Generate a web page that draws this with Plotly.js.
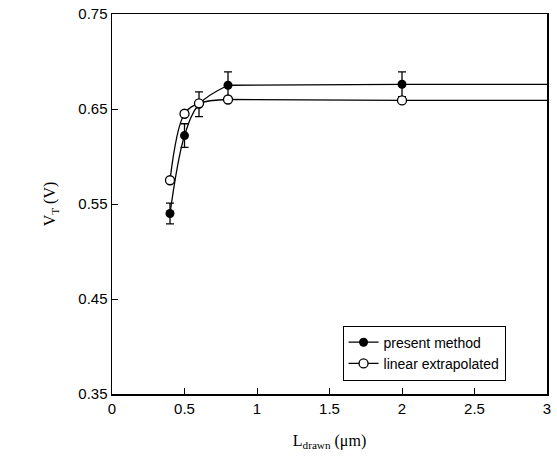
<!DOCTYPE html>
<html>
<head>
<meta charset="utf-8">
<script src="https://cdn.plot.ly/plotly-3.0.1.min.js"></script>
<style>body{margin:0;padding:0;background:#fff;} #chart{width:557px;height:473px;}</style>
</head>
<body>
<div id="chart"></div>
<script>
// Data
const lDrawn = [0.4, 0.5, 0.6, 0.8, 2.0];
const vtPresent = [0.540, 0.622, 0.655, 0.675, 0.676];
const vtPresentErr = [0.011, 0.0125, 0.013, 0.014, 0.013];
const vtLinear = [0.575, 0.645, 0.656, 0.660, 0.659];
const xAxisEnd = 3.0;
const xTicks = [0, 0.5, 1, 1.5, 2, 2.5, 3];
const yTicks = [0.35, 0.45, 0.55, 0.65, 0.75];
const seriesNames = ['present method', 'linear extrapolated'];

const nCurve = 4; // steep region drawn as a smooth curve, the plateau as straight segments
const lineStyle = {color: '#000', width: 1.3};

function curveTraces(ys) {
  const last = ys[ys.length - 1];
  return [
    {x: lDrawn.slice(0, nCurve), y: ys.slice(0, nCurve), type: 'scatter', mode: 'lines',
     line: Object.assign({shape: 'spline', smoothing: 1}, lineStyle), showlegend: false, hoverinfo: 'skip'},
    {x: lDrawn.slice(nCurve - 1).concat([xAxisEnd]), y: ys.slice(nCurve - 1).concat([last]),
     type: 'scatter', mode: 'lines', line: lineStyle, showlegend: false, hoverinfo: 'skip'}
  ];
}

const filledMarker = {color: '#000', size: 9, symbol: 'circle'};
const openMarker = {color: '#fff', size: 9, symbol: 'circle', line: {color: '#000', width: 1.3}};

const traces = [].concat(
  curveTraces(vtPresent),
  curveTraces(vtLinear),
  [
    {x: lDrawn, y: vtPresent, type: 'scatter', mode: 'markers', showlegend: false,
     marker: filledMarker,
     error_y: {type: 'data', array: vtPresentErr, visible: true, color: '#000', thickness: 1.3, width: 4},
     cliponaxis: false},
    {x: lDrawn, y: vtLinear, type: 'scatter', mode: 'markers', showlegend: false,
     marker: openMarker, cliponaxis: false},
    // legend entries
    {x: [null], y: [null], name: seriesNames[0], type: 'scatter', mode: 'lines+markers',
     line: lineStyle, marker: filledMarker},
    {x: [null], y: [null], name: seriesNames[1], type: 'scatter', mode: 'lines+markers',
     line: lineStyle, marker: openMarker}
  ]
);

const layout = {
  width: 557, height: 473,
  margin: {l: 112, r: 10, t: 14, b: 79},
  paper_bgcolor: '#fff', plot_bgcolor: '#fff',
  showlegend: true,
  legend: {
    x: 0.53, y: 0.18, xanchor: 'left', yanchor: 'top',
    bordercolor: '#000', borderwidth: 1, bgcolor: '#fff',
    font: {family: 'Liberation Sans, Arial, sans-serif', size: 14, color: '#000'},
    itemwidth: 30, tracegroupgap: 0
  },
  xaxis: {
    range: [0, 3], tickvals: xTicks, ticktext: xTicks.map(String),
    ticks: 'inside', ticklen: 6, tickwidth: 1, tickcolor: '#000',
    showline: true, linecolor: '#000', linewidth: 1.5, mirror: true,
    showgrid: false, zeroline: false,
    tickfont: {family: 'Liberation Sans, Arial, sans-serif', size: 15, color: '#000'},
    title: {text: 'L<sub>drawn</sub> (\u03bcm)', font: {family: 'Liberation Serif, Times New Roman, serif', size: 16, color: '#000'}, standoff: 19}
  },
  yaxis: {
    range: [0.35, 0.75], tickvals: yTicks, ticktext: yTicks.map(v => v.toFixed(2)),
    ticks: 'inside', ticklen: 6, tickwidth: 1, tickcolor: '#000',
    showline: true, linecolor: '#000', linewidth: 1.5, mirror: true,
    showgrid: false, zeroline: false,
    tickfont: {family: 'Liberation Sans, Arial, sans-serif', size: 15, color: '#000'},
    title: {text: 'V<sub>T</sub> (V)', font: {family: 'Liberation Serif, Times New Roman, serif', size: 16, color: '#000'}, standoff: 18}
  }
};

Plotly.newPlot('chart', traces, layout, {displayModeBar: false, staticPlot: true});
</script>
</body>
</html>
